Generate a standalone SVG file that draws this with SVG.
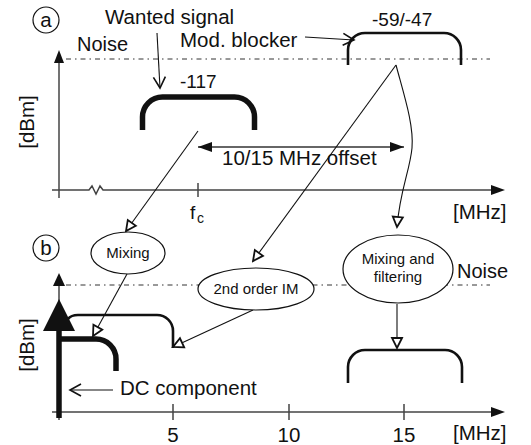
<svg xmlns="http://www.w3.org/2000/svg" width="531" height="445" viewBox="0 0 531 445">
  <style>
    text { font-family: "Liberation Sans", Arial, sans-serif; fill: #111; }
    .big { font-size: 20.5px; }
    .small { font-size: 15px; }
    .axis { stroke: #444; stroke-width: 1.5; fill: none; }
    .noise { stroke: #333; stroke-width: 1; fill: none; stroke-dasharray: 5 4 1.5 4; }
    .conn { stroke: #111; stroke-width: 1.1; fill: none; }
    .span { stroke: #333; stroke-width: 1.3; fill: none; }
    .bubble { fill: #fff; stroke: #111; stroke-width: 1.2; }
    .thick { stroke: #111; stroke-width: 5.5; fill: none; }
    .thin { stroke: #111; stroke-width: 2.6; fill: none; }
    .tag { fill: #fff; stroke: #111; stroke-width: 1.2; }
  </style>
  <defs>
    <marker id="openTri" markerUnits="userSpaceOnUse" markerWidth="14" markerHeight="14" refX="10" refY="5" orient="auto" viewBox="-2 -2 14 14">
      <path d="M0,0 L10,5 L0,10 z" fill="#fff" stroke="#111" stroke-width="1.8"/>
    </marker>
    <marker id="chevron" markerUnits="userSpaceOnUse" markerWidth="14" markerHeight="16" refX="11" refY="6" orient="auto" viewBox="-1 -1 14 14">
      <path d="M0,0 L11,6 L0,12" fill="none" stroke="#111" stroke-width="1.6"/>
    </marker>
    <marker id="solidTri" markerUnits="userSpaceOnUse" markerWidth="15" markerHeight="11" refX="14" refY="5" orient="auto-start-reverse" viewBox="0 0 15 11">
      <path d="M0,0 L14,5 L0,10 z" fill="#111"/>
    </marker>
  </defs>

  <!-- Panel a: input spectrum -->
  <g id="panel-a">
    <g id="tag-a">
      <circle cx="46" cy="20" r="13" class="tag"/>
      <text x="46" y="27" class="big" text-anchor="middle">a</text>
    </g>
    <g id="axes-a">
      <path class="axis" d="M59 198 V62"/>
      <path d="M59 50 L54 63 L64 63 z" fill="#111"/>
      <path class="axis" d="M52 190 H89 L92 186 L96 194 L100 186 L103 190 H492"/>
      <path d="M505 190 L491 185 L491 195 z" fill="#111"/>
      <path class="axis" d="M198 183 V197"/>
      <text x="190" y="219" font-size="19">f</text>
      <text x="197" y="223" font-size="14">c</text>
      <text x="453" y="219" class="big">[MHz]</text>
      <text transform="translate(34 122) rotate(-90)" class="big" text-anchor="middle">[dBm]</text>
    </g>
    <path id="noise-a" class="noise" d="M66 59 H490"/>
    <text x="77" y="51" font-size="20">Noise</text>
    <g id="wanted-a">
      <path class="thick" d="M142.5 130 V117 A20 20 0 0 1 162.5 97 H234.5 A20 20 0 0 1 254.5 117 V130"/>
      <text x="180" y="88" font-size="19">-117</text>
      <text x="105" y="24" class="big">Wanted signal</text>
    </g>
    <g id="blocker-a">
      <path class="thin" d="M348 65 V50 A17 17 0 0 1 365 33 H444 A17 17 0 0 1 461 50 V65"/>
      <text x="372" y="26" font-size="19">-59/-47</text>
      <text x="180" y="47" class="big">Mod. blocker</text>
    </g>
    <text x="222" y="165" class="big">10/15 MHz offset</text>
  </g>

  <!-- Panel b: spectrum after down-conversion -->
  <g id="panel-b">
    <g id="tag-b">
      <circle cx="46" cy="248" r="13" class="tag"/>
      <text x="46" y="255" class="big" text-anchor="middle">b</text>
    </g>
    <g id="axes-b">
      <path class="axis" d="M59 420 V284"/>
      <path d="M59 273 L53 286 L65 286 z" fill="#111"/>
      <path class="axis" d="M52 412 H492"/>
      <path d="M505 412 L491 407 L491 417 z" fill="#111"/>
      <path class="axis" d="M173 404 V420 M289 404 V420 M404 404 V420"/>
      <text x="173" y="442" class="big" text-anchor="middle">5</text>
      <text x="289" y="442" class="big" text-anchor="middle">10</text>
      <text x="404" y="442" class="big" text-anchor="middle">15</text>
      <text x="453" y="440" class="big">[MHz]</text>
      <text transform="translate(34 345) rotate(-90)" class="big" text-anchor="middle">[dBm]</text>
    </g>
    <path id="noise-b" class="noise" d="M66 285 H490"/>
    <text x="457" y="278" font-size="20">Noise</text>
    <g id="dc-component">
      <path class="thick" d="M59 418 V325"/>
      <path d="M59 299 L43 331 L75 331 z" fill="#111"/>
      <text x="120" y="395" class="big">DC component</text>
    </g>
    <path id="im2-product" class="thin" d="M68 319 Q71 315 78 315 H157 A16 16 0 0 1 173 331 V348"/>
    <path id="wanted-b" class="thick" d="M59 339 H96 A20 20 0 0 1 116 359 V371"/>
    <path id="blocker-b" class="thin" d="M348 383 V367 A17 17 0 0 1 365 350 H445 A17 17 0 0 1 462 367 V383"/>
  </g>

  <!-- Connectors -->
  <g id="connectors">
    <path class="conn" d="M157 33 L160 88" marker-end="url(#chevron)"/>
    <path class="conn" d="M305 37 L354 40" marker-end="url(#chevron)"/>
    <path class="span" d="M198 147 H404" marker-start="url(#solidTri)" marker-end="url(#solidTri)"/>
    <path class="conn" d="M198 131 L126 231" marker-end="url(#openTri)"/>
    <path class="conn" d="M396 65 L253 261" marker-end="url(#openTri)"/>
    <path class="conn" d="M396 65 C404 95 414 125 412 148 C410 170 400 190 397 227" marker-end="url(#openTri)"/>
    <path class="conn" d="M127 274 L93 336" marker-end="url(#openTri)"/>
    <path class="conn" d="M253 310 L173 347" marker-end="url(#openTri)"/>
    <path class="conn" d="M397 304 V348" marker-end="url(#openTri)"/>
    <path class="conn" d="M113 390 H70" marker-end="url(#chevron)"/>
  </g>

  <!-- Process bubbles -->
  <g id="mixing">
    <ellipse cx="128" cy="253" rx="37" ry="21" class="bubble"/>
    <text x="128" y="258" class="small" text-anchor="middle">Mixing</text>
  </g>
  <g id="second-order-im">
    <ellipse cx="256" cy="289" rx="58" ry="21" class="bubble"/>
    <text x="256" y="294" class="small" text-anchor="middle">2nd order IM</text>
  </g>
  <g id="mixing-filtering">
    <ellipse cx="398" cy="269" rx="55" ry="34" class="bubble"/>
    <text x="398" y="264" class="small" text-anchor="middle">Mixing and</text>
    <text x="398" y="282" class="small" text-anchor="middle">filtering</text>
  </g>
</svg>
